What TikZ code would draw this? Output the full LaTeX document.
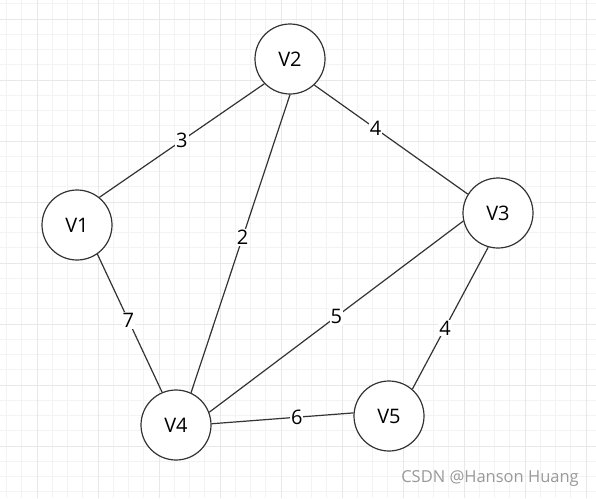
\documentclass[tikz,border=0pt]{standalone}
\usepackage{fontspec}
\setmainfont{Open Sans}
\usetikzlibrary{positioning}
\definecolor{gridminor}{HTML}{F3F3F3}
\definecolor{gridmajor}{HTML}{E8E8E8}
\definecolor{ink}{HTML}{333333}
\begin{document}
\begin{tikzpicture}[
    x=1pt, y=-1pt,
    vertex/.style={draw=ink, circle, minimum size=70pt, inner sep=0pt, line width=1.2pt, fill=white, font=\fontsize{20}{24}\selectfont},
    edge/.style={draw=ink, line width=1.2pt},
    wt/.style={fill=white, inner sep=1pt, font=\fontsize{20}{24}\selectfont},
]
\useasboundingbox (0,0) rectangle (596,498);
\fill[white] (0,0) rectangle (596,498);
% Grid
\foreach \i in {0,...,38} \draw[gridminor, line width=1pt] ({6.5+15.25*\i},0) -- ++(0,498);
\foreach \i in {0,...,32} \draw[gridminor, line width=1pt] (0,{3.75+15.25*\i}) -- ++(596,0);
\foreach \i in {0,...,9} \draw[gridmajor, line width=1pt] ({37+61*\i},0) -- ++(0,498);
\foreach \i in {0,...,7} \draw[gridmajor, line width=1pt] (0,{19+61*\i}) -- ++(596,0);
% Vertices
\node[vertex] (V1) at (77,225) {V1};
\node[vertex] (V2) at (290,59) {V2};
\node[vertex] (V3) at (498,213) {V3};
\node[vertex] (V4) at (176,425) {V4};
\node[vertex] (V5) at (389,416) {V5};
% Edges
\draw[edge] (V1.51) -- node[wt] (w12) {3} (V2.224);
\draw[edge] (V2.313) -- node[wt, pos=0.4] (w23) {4} (V3.148);
\draw[edge] (V2.270) -- node[wt, pos=0.48] (w24) {2} (V4.65);
\draw[edge] (V1.305) -- node[wt, pos=0.48] (w14) {7} (V4.113);
\draw[edge] (V3.193) -- node[wt] (w34) {5} (V4.21);
\draw[edge] (V3.254) -- node[wt, pos=0.57] (w35) {4} (V5.49);
\draw[edge] (V4.2) -- node[wt, pos=0.6] (w45) {6} (V5.175);
% Watermark
\node[text=black!40, font=\fontsize{16.5}{18}\selectfont] (mark) at (490,478) {CSDN @Hanson Huang};
\end{tikzpicture}
\end{document}
